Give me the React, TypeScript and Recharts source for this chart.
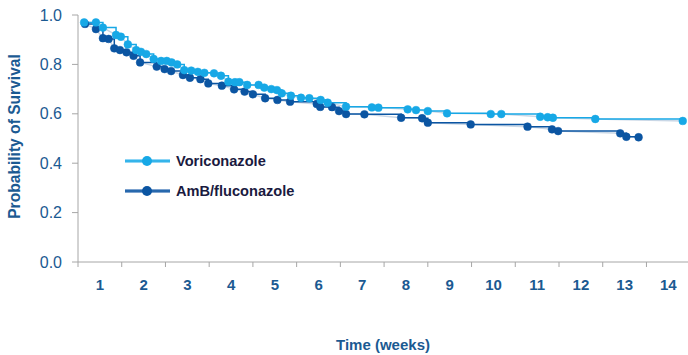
import { Legend, Line, LineChart, XAxis, YAxis } from "recharts";

// Kaplan-Meier points (time in weeks, survival probability)
const voriWeeks = [
  0.14, 0.41, 0.57, 0.87, 0.98, 1.14, 1.33, 1.44, 1.56, 1.73, 1.9, 2.03, 2.14, 2.27,
  2.43, 2.59, 2.74, 2.89, 3.11, 3.27, 3.44, 3.59, 3.69, 3.87, 4.13, 4.26, 4.42, 4.55,
  4.66, 4.87, 5.1, 5.29, 5.55, 5.71, 6.13, 6.72, 6.87, 7.54, 7.73, 8.0, 8.44, 9.44,
  9.68, 10.57, 10.74, 10.86, 11.83, 13.83,
];
const voriSurv = [
  0.97, 0.97, 0.949, 0.919, 0.912, 0.881, 0.858, 0.851, 0.842, 0.822, 0.814, 0.814, 0.808, 0.8,
  0.777, 0.775, 0.77, 0.766, 0.764, 0.754, 0.73, 0.728, 0.728, 0.717, 0.717, 0.706, 0.7, 0.696,
  0.683, 0.673, 0.665, 0.663, 0.656, 0.645, 0.629, 0.626, 0.625, 0.618, 0.615, 0.611, 0.602, 0.599,
  0.599, 0.588, 0.586, 0.584, 0.579, 0.571,
];

const ambWeeks = [
  0.16, 0.41, 0.57, 0.7, 0.83, 0.96, 1.11, 1.27, 1.42, 1.8, 1.98, 2.13, 2.4, 2.56,
  2.8, 2.98, 3.29, 3.57, 3.81, 4.0, 4.28, 4.56, 4.85, 5.46, 5.54, 5.81, 5.97, 6.13,
  6.55, 7.39, 7.87, 8.0, 8.98, 10.28, 10.84, 10.98, 12.4, 12.54, 12.82,
];
const ambSurv = [
  0.964, 0.943, 0.906, 0.903, 0.865, 0.858, 0.849, 0.835, 0.808, 0.791, 0.781, 0.773, 0.757, 0.746,
  0.74, 0.723, 0.714, 0.699, 0.69, 0.679, 0.663, 0.656, 0.649, 0.64, 0.628, 0.627, 0.611, 0.599,
  0.598, 0.584, 0.582, 0.564, 0.557, 0.548, 0.537, 0.53, 0.521, 0.507, 0.505,
];

const weekTicks = [0, 1, 2, 3, 4, 5, 6, 7, 8, 9, 10, 11, 12, 13, 14];
const survTicks = [0, 0.2, 0.4, 0.6, 0.8, 1];

const VORI = "#17a8e6";
const AMB = "#0b55a2";
const PALE = "#c9d7e6";
const AXIS = "#a6a6a6";
const LABEL = "#1b5a92";
const FONT = "'Liberation Sans', Arial, sans-serif";

const vori = voriWeeks.map((t, i) => ({ t, s: voriSurv[i] }));
const amb = ambWeeks.map((t, i) => ({ t, s: ambSurv[i] }));

const series = [
  { name: "Voriconazole", color: VORI, tint: "#8fd6f6" },
  { name: "AmB/fluconazole", color: AMB, tint: "#7da3cf" },
];

function WeekTick(props: any) {
  const { x, y, payload } = props;
  if (payload.value === 0) return <g />;
  // labels sit in the middle of each week interval
  return (
    <text x={x - 21.8} y={y} dy={11} textAnchor="middle" fill={LABEL} fontSize={15} fontWeight="bold" fontFamily={FONT}>
      {payload.value}
    </text>
  );
}

function YTitle(props: any) {
  const { viewBox } = props;
  const cx = viewBox.x + 14;
  const cy = viewBox.y + viewBox.height / 2 - 2;
  return (
    <text x={cx} y={cy} transform={`rotate(-90 ${cx} ${cy})`} textAnchor="middle" dominantBaseline="central" fill={LABEL} fontSize={15.6} fontWeight="bold" fontFamily={FONT}>
      Probability of Survival
    </text>
  );
}

function KMLegend() {
  return (
    <div style={{ fontFamily: FONT }}>
      {series.map((s) => (
        <div key={s.name} style={{ display: "flex", alignItems: "center", height: 30 }}>
          <svg width={45} height={14} style={{ marginRight: 6 }}>
            <line x1={0} y1={7} x2={45} y2={7} stroke={s.tint} strokeWidth={4} />
            <line x1={0} y1={7} x2={45} y2={7} stroke={s.color} strokeWidth={1.4} />
            <circle cx={22} cy={7} r={5} fill={s.color} />
          </svg>
          <span style={{ fontSize: 14.6, fontWeight: "bold", color: "#1a1a40" }}>{s.name}</span>
        </div>
      ))}
    </div>
  );
}

export default function App() {
  return (
    <div style={{ width: 688, height: 355 }}>
      <style>{"body{margin:0}"}</style>
      <LineChart width={688} height={355} margin={{ top: 15, right: 0, left: 0, bottom: 0 }}>
        <XAxis
          dataKey="t"
          type="number"
          domain={[0, 13.95]}
          ticks={weekTicks}
          allowDataOverflow
          interval={0}
          height={93}
          stroke={AXIS}
          tickSize={5}
          tickMargin={12}
          tick={<WeekTick />}
          label={{ value: "Time (weeks)", position: "insideBottom", offset: 5, fill: LABEL, fontSize: 15, fontWeight: "bold", fontFamily: FONT }}
        />
        <YAxis
          dataKey="s"
          type="number"
          domain={[0, 1]}
          ticks={survTicks}
          width={78}
          stroke={AXIS}
          tickSize={6}
          tickMargin={10}
          tickFormatter={(v: number) => v.toFixed(1)}
          tick={{ fill: LABEL, fontSize: 16, fontFamily: FONT }}
          label={<YTitle />}
        />
        <Legend
          content={<KMLegend />}
          layout="vertical"
          verticalAlign="middle"
          align="center"
          wrapperStyle={{ left: 125, top: 146, width: 220 }}
        />
        <Line data={vori} dataKey="s" type="linear" stroke={PALE} strokeWidth={1.5} dot={false} activeDot={false} isAnimationActive={false} legendType="none" />
        <Line data={amb} dataKey="s" type="linear" stroke={PALE} strokeWidth={1.5} dot={false} activeDot={false} isAnimationActive={false} legendType="none" />
        <Line
          data={amb}
          dataKey="s"
          name="AmB/fluconazole"
          type="stepAfter"
          stroke={AMB}
          strokeWidth={1.5}
          dot={{ r: 3.9, fill: AMB, stroke: AMB, strokeWidth: 0.5 }}
          activeDot={false}
          isAnimationActive={false}
        />
        <Line
          data={vori}
          dataKey="s"
          name="Voriconazole"
          type="stepAfter"
          stroke={VORI}
          strokeWidth={1.5}
          dot={{ r: 3.9, fill: VORI, stroke: VORI, strokeWidth: 0.5 }}
          activeDot={false}
          isAnimationActive={false}
        />
      </LineChart>
    </div>
  );
}
